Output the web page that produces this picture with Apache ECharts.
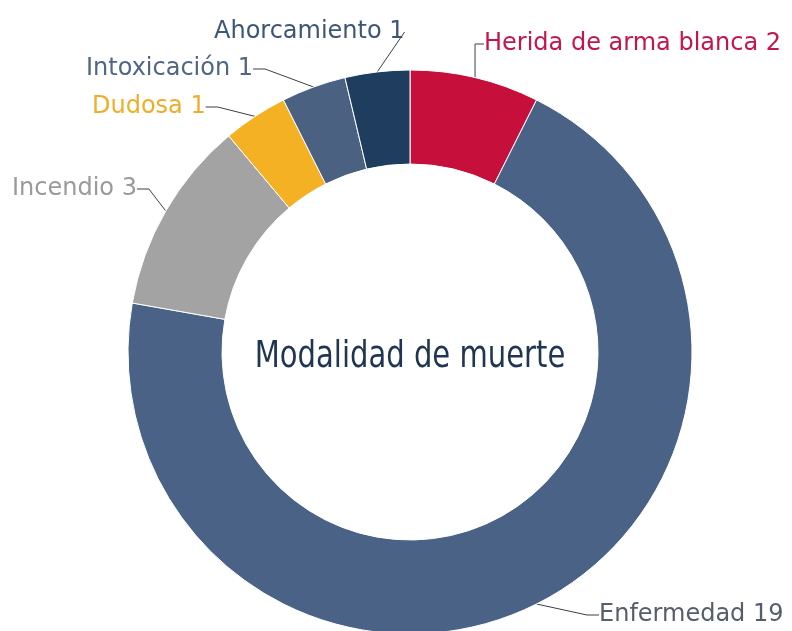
<!DOCTYPE html>
<html>
<head>
<meta charset="utf-8">
<script src="https://cdn.jsdelivr.net/npm/echarts@6/dist/echarts.min.js"></script>
<style>
  html, body { margin: 0; padding: 0; background: #fff; }
  #chart { width: 792px; height: 631px; }
</style>
</head>
<body>
<div id="chart"></div>
<script>
// data, clockwise from the top
var categories = ['Herida de arma blanca', 'Enfermedad', 'Incendio', 'Dudosa', 'Intoxicación', 'Ahorcamiento'];
var values = [2, 19, 3, 1, 1, 1];
var sliceColors = ['#c60f3a', '#4a6285', '#a3a3a3', '#f5b124', '#4a6182', '#1f3d5f'];
var labelColors = ['#c4164a', '#555e6b', '#9a9a9a', '#f0ad2a', '#4f6685', '#3d5676'];

// where each label sits (left edge, middle)
var labelPos = {
  'Herida de arma blanca': [484, 44],
  'Enfermedad': [599, 615],
  'Incendio': [12, 189],
  'Dudosa': [92, 107],
  'Intoxicación': [86, 69],
  'Ahorcamiento': [214, 32]
};

var myChart = echarts.init(document.getElementById('chart'));

var option = {
  animation: false,
  graphic: [{
    type: 'text',
    x: 410,
    y: 357,
    z: 100,
    scaleX: 0.85,
    style: {
      text: 'Modalidad de muerte',
      fill: '#1f3552',
      fontSize: 38,
      fontFamily: '"DejaVu Sans Condensed", sans-serif',
      align: 'center',
      verticalAlign: 'middle'
    }
  }],
  series: [{
    type: 'pie',
    center: [410, 352],
    radius: [188, 282],
    startAngle: 90,
    clockwise: true,
    avoidLabelOverlap: false,
    itemStyle: { borderColor: '#fff', borderWidth: 1 },
    label: {
      show: true,
      formatter: '{b} {c}',
      fontFamily: '"DejaVu Sans", sans-serif',
      fontSize: 24
    },
    labelLine: {
      show: true,
      length: 12,
      length2: 12,
      lineStyle: { color: '#3a3f47', width: 1 }
    },
    labelLayout: function (params) {
      var p = labelPos[categories[params.dataIndex]];
      return { x: p[0], y: p[1], align: 'left', verticalAlign: 'middle' };
    },
    data: categories.map(function (name, i) {
      return {
        name: name,
        value: values[i],
        itemStyle: { color: sliceColors[i] },
        label: { color: labelColors[i] }
      };
    })
  }]
};

myChart.setOption(option);
</script>
</body>
</html>
